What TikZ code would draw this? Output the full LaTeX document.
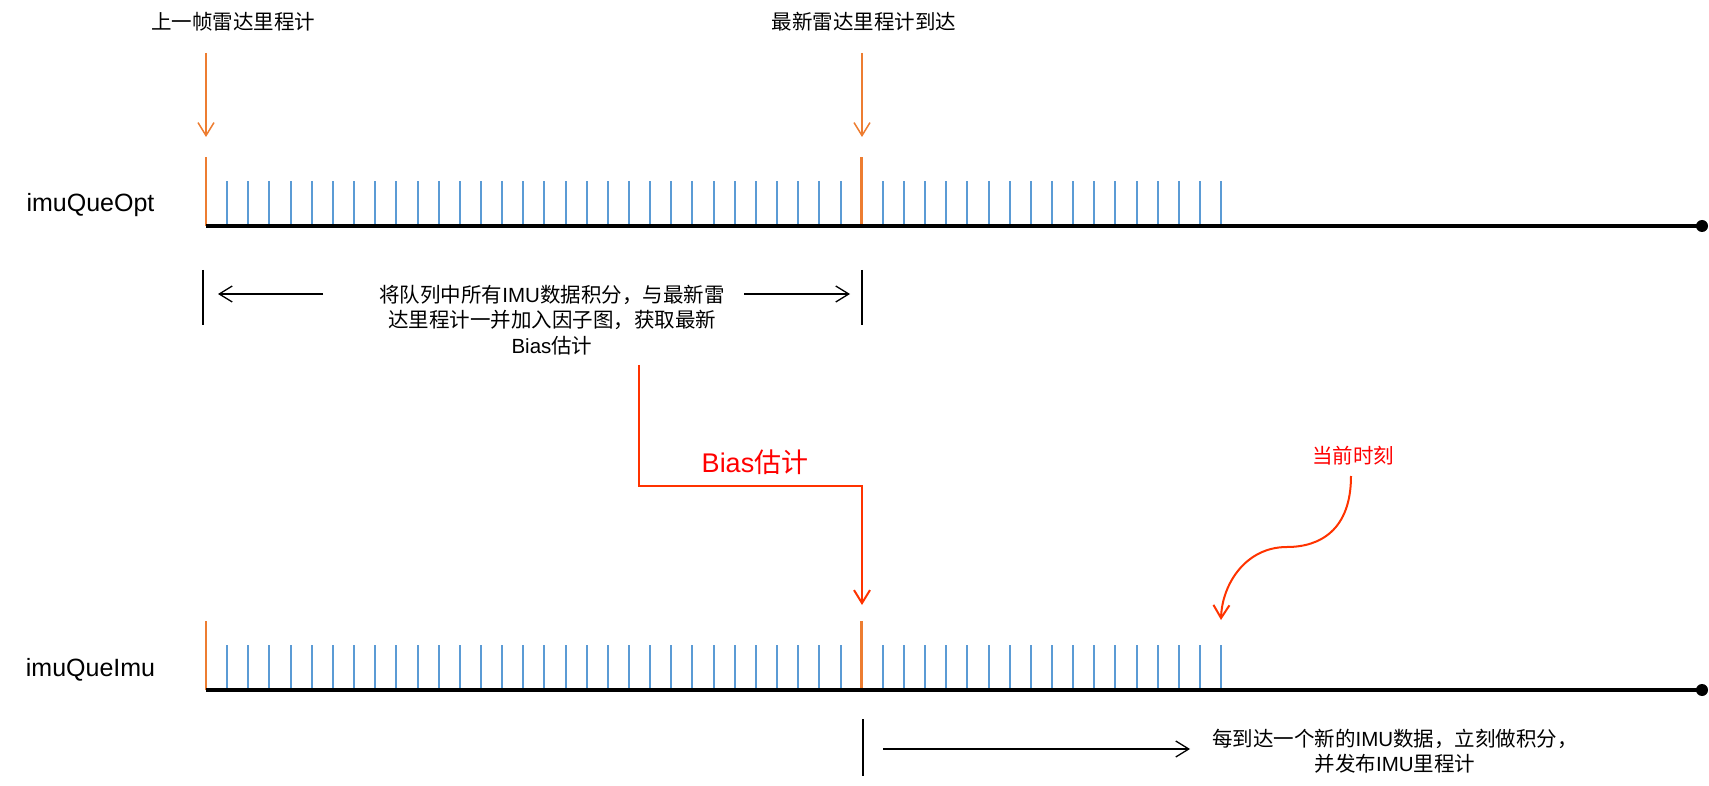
\documentclass[tikz,border=0pt]{standalone}
\usepackage{fontspec}
\setmainfont{Noto Sans CJK SC}
\newfontfamily\lat{Liberation Sans}
\usepackage{tikz}
\usetikzlibrary{arrows.meta,positioning}
\definecolor{tickblue}{RGB}{91,155,213}
\definecolor{odomorange}{RGB}{237,125,49}
\definecolor{biasred}{RGB}{255,51,0}

\begin{document}
\begin{tikzpicture}[x=1pt,y=-1pt,
    lbl/.style={font=\fontsize{20.5}{25.5}\selectfont, inner sep=0pt, align=center},
    qlbl/.style={font=\lat\fontsize{25}{29}\selectfont, inner sep=0pt},
    barb/.style={-{Straight Barb[length=13pt,width=16pt]}},
    odoarrow/.style={barb, odomorange, line width=1.5pt},
    span/.style={barb, black, line width=1.3pt},
    endbar/.style={black, line width=1.5pt},
    biasline/.style={biasred, line width=2pt}]
    \useasboundingbox (0,0) rectangle (1709,786);

    % Lidar odometry labels
    \node [lbl] (prevlbl) at (233,22) {上一帧雷达里程计};
    \node [lbl] (curlbl) at (864,22) {最新雷达里程计到达};
    \coordinate (prevA) at (206,53);
    \coordinate (prevB) at (206,137);
    \coordinate (curA) at (862,53);
    \coordinate (curB) at (862,137);
    \draw [odoarrow] (prevA) -- (prevB);
    \draw [odoarrow] (curA) -- (curB);

    % Queues
    \node [qlbl] (optlbl) at (90.5,205) {imuQueOpt};
    \node [qlbl] (imulbl) at (90.5,670) {imuQueImu};
    \foreach \y in {226,690} {
        \foreach \i in {1,...,48} {
            \ifnum\i=31\else
                \draw [tickblue, line width=2pt] (206+21.15*\i,\y) -- ++(0,-45);
            \fi
        }
        \draw [odomorange, line width=2.5pt] (206,\y) -- ++(0,-69);
        \draw [odomorange, line width=2.5pt] (861.7,\y) -- ++(0,-69);
        \draw [line width=3.5pt] (206,\y) -- (1702,\y);
        \fill (1702,\y) circle (6pt);
    }

    % Optimisation span
    \node [lbl] (integ) at (552,320) {将队列中所有{\lat IMU}数据积分，与最新雷\\达里程计一并加入因子图，获取最新\\{\lat Bias}估计};
    \coordinate (barL) at (203,270);
    \coordinate (barR) at (862,270);
    \draw [endbar] (barL) -- ++(0,55);
    \draw [endbar] (barR) -- ++(0,55);
    \coordinate (spanLA) at (323,294);
    \coordinate (spanLB) at (218,294);
    \coordinate (spanRA) at (744,294);
    \coordinate (spanRB) at (850,294);
    \draw [span] (spanLA) -- (spanLB);
    \draw [span] (spanRA) -- (spanRB);

    % Bias handed over
    \coordinate (biasA) at (639,365);
    \coordinate (biasM) at (862,486);
    \coordinate (biasB) at (862,605);
    \draw [biasline, barb] (biasA) |- (biasM) -- (biasB);
    \node [text=red, font=\fontsize{27}{32}\selectfont, inner sep=0pt] (biaslbl) at (755,462) {{\lat Bias}估计};

    % Current time
    \node [lbl, text=red] (nowlbl) at (1353,456) {当前时刻};
    \coordinate (nowA) at (1351,476);
    \coordinate (nowB) at (1221,620);
    \draw [biasline, barb] (nowA) .. controls (1351,530) and (1320,547) .. (1287,547)
        .. controls (1245,547) and (1222,585) .. (nowB);

    % Propagation span
    \coordinate (barB) at (863,719);
    \draw [endbar] (barB) -- ++(0,57);
    \coordinate (propA) at (883,749);
    \coordinate (propB) at (1190,749);
    \draw [span] (propA) -- (propB);
    \node [lbl] (prop) at (1395,751) {每到达一个新的{\lat IMU}数据，立刻做积分，\\并发布{\lat IMU}里程计};
\end{tikzpicture}
\end{document}
